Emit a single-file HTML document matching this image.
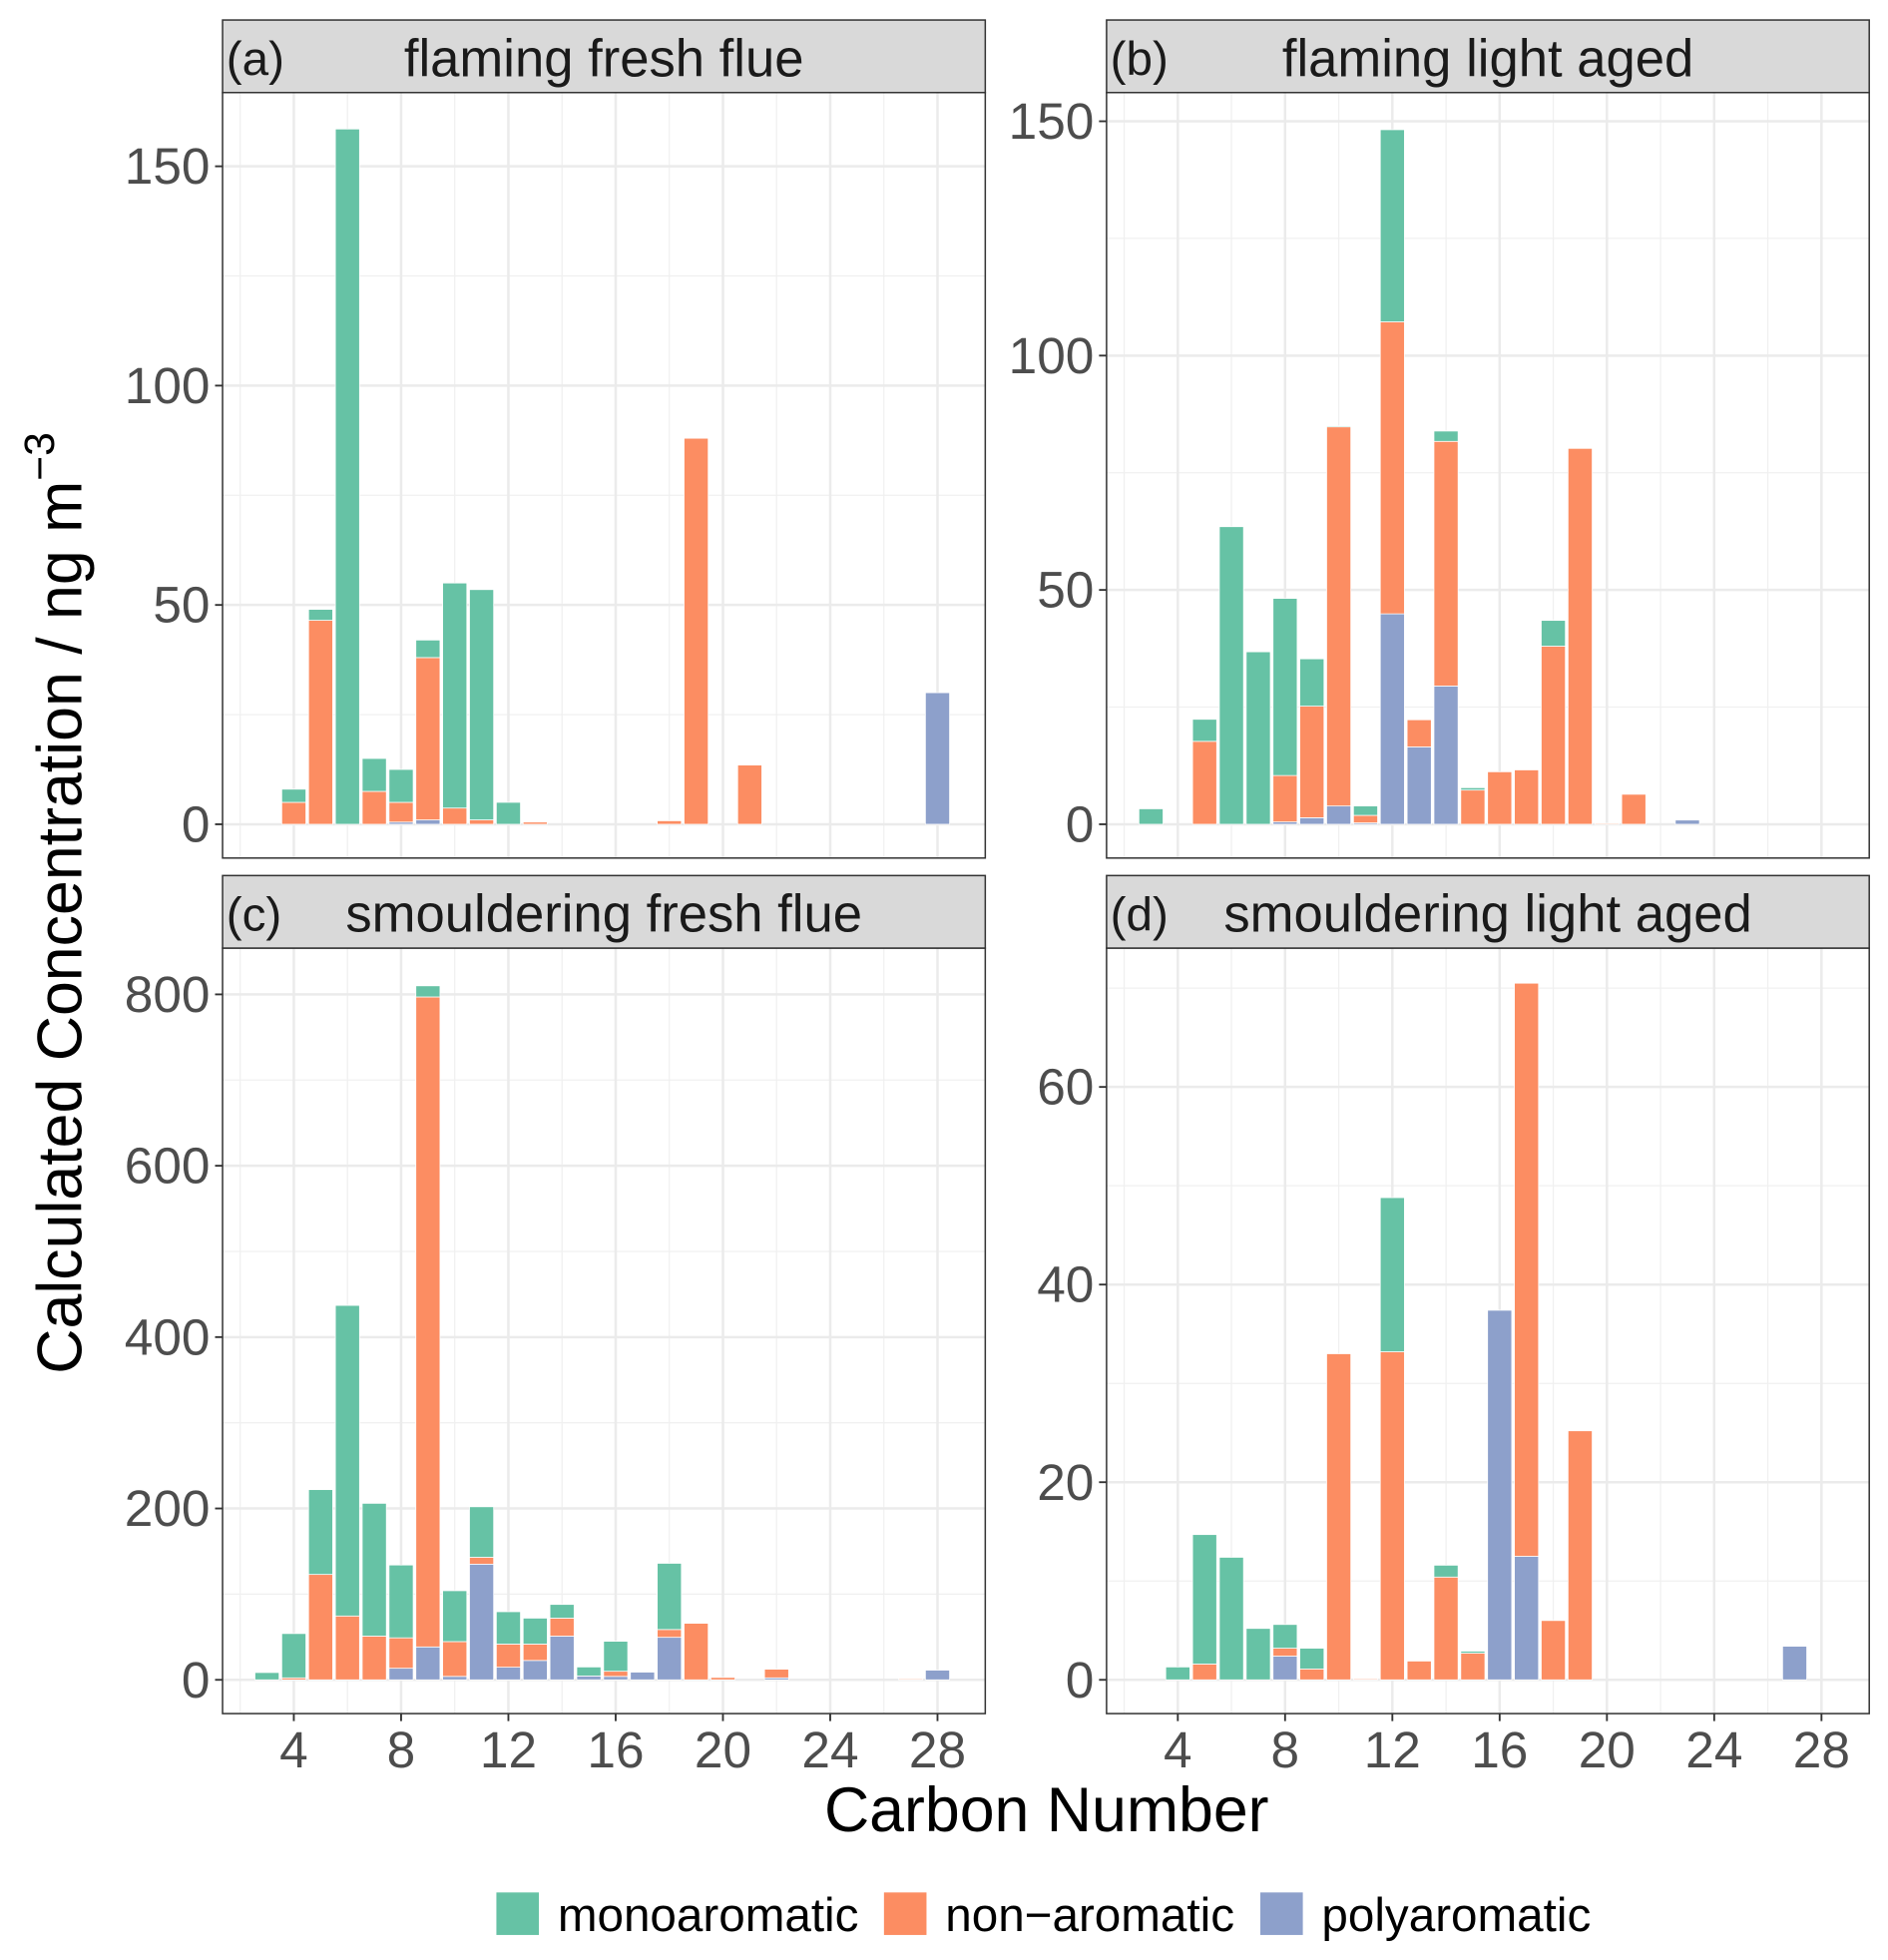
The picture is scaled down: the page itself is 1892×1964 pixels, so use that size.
<!DOCTYPE html>
<html><head><meta charset="utf-8">
<style>
html,body{margin:0;padding:0;background:#fff;}
svg{display:block;}
text{font-family:"Liberation Sans",sans-serif;}
</style></head>
<body>
<svg id="chart" width="1892" height="1964" viewBox="0 0 1510 1567" preserveAspectRatio="none" xmlns="http://www.w3.org/2000/svg">
<g id="root"></g>
</svg>
<script>
// Carbon numbers and series values per panel (poly, non, mono stacked bottom→top)
const carbonA = [4,5,6,7,8,9,10,11,12,13,18,19,21,28];
const polyA   = [0,0,0,0,0.5,1,0,0,0,0,0,0,0,30];
const nonA    = [5,46.5,0,7.5,4.5,37,3.7,1,0,0.5,0.8,88,13.5,0];
const monoA   = [3,2.5,158.5,7.5,7.5,4,51.3,52.5,5,0,0,0,0,0];

const carbonB = [3,5,6,7,8,9,10,11,12,13,14,15,16,17,18,19,20,21,23];
const polyB   = [0,0,0,0,0.5,1.4,3.9,0.3,44.9,16.5,29.5,0,0,0,0,0,0,0,0.9];
const nonB    = [0,17.7,0,0,9.9,23.8,80.9,1.6,62.3,5.8,52.2,7.3,11.2,11.6,38,80.2,0.2,6.4,0];
const monoB   = [3.3,4.7,63.5,36.8,37.8,10.1,0.2,2,41,0,2.2,0.5,0,0,5.5,0,0,0,0];

const carbonC = [3,4,5,6,7,8,9,10,11,12,13,14,15,16,17,18,19,20,22,27,28];
const polyC   = [0,0,0,0,0,13.5,38.4,4,135,14.7,22.6,51,4.5,4,9,49.6,0,0,2.3,0,11.3];
const nonC    = [0,2.3,123,74.5,51,35.5,758.6,40.6,8,27,19.1,21,0,6,0,9.1,66,2.8,10.1,1.1,0];
const monoC   = [8.5,51.7,99,362.5,155,85,13,59.4,59,37.8,30.3,16,10.5,35,0,77.3,0,0,0,0,0];

const carbonD = [4,5,6,7,8,9,10,11,12,13,14,15,16,17,18,19,27];
const polyD   = [0,0,0,0,2.4,0,0,0,0,0,0,0,37.4,12.5,0,0,3.4];
const nonD    = [0,1.6,0,0,0.8,1.1,33,0.1,33.2,1.9,10.4,2.7,0,58,6,25.2,0];
const monoD   = [1.3,13.1,12.4,5.2,2.4,2.1,0,0,15.6,0,1.2,0.2,0,0,0,0,0];

const ticksA = [0,50,100,150], minorA=[25,75,125];
const ticksB = [0,50,100,150], minorB=[25,75,125];
const ticksC = [0,200,400,600,800], minorC=[100,300,500,700];
const ticksD = [0,20,40,60], minorD=[10,30,50,70];
const xTicks = [4,8,12,16,20,24,28];
const xMinor = [2,6,10,14,18,22,26];

const COL = {mono:'#66c2a5', non:'#fc8d62', poly:'#8da0cb'};
const NS='http://www.w3.org/2000/svg';
const root=document.getElementById('root');
function mk(tag,attrs,parent){const e=document.createElementNS(NS,tag);for(const k in attrs)e.setAttribute(k,attrs[k]);(parent||root).appendChild(e);return e;}

const panels=[
 {id:'a',title:'flaming fresh flue',label:'(a)',L:178,R:788,T:16,S:74,B:686,y0:659,ppu:3.507,c:carbonA,p:polyA,n:nonA,m:monoA,t:ticksA,mi:minorA,xl:false},
 {id:'b',title:'flaming light aged',label:'(b)',L:885,R:1495,T:16,S:74,B:686,y0:659,ppu:3.747,c:carbonB,p:polyB,n:nonB,m:monoB,t:ticksB,mi:minorB,xl:false},
 {id:'c',title:'smouldering fresh flue',label:'(c)',L:178,R:788,T:700,S:758,B:1370,y0:1343,ppu:0.685,c:carbonC,p:polyC,n:nonC,m:monoC,t:ticksC,mi:minorC,xl:true},
 {id:'d',title:'smouldering light aged',label:'(d)',L:885,R:1495,T:700,S:758,B:1370,y0:1343,ppu:7.9,c:carbonD,p:polyD,n:nonD,m:monoD,t:ticksD,mi:minorD,xl:true}
];

panels.forEach(P=>{
  const g=mk('g',{});
  
  
  const xs=c=>P.L+57+(c-4)*21.45;
  const ys=v=>P.y0-v*P.ppu;
  mk('rect',{x:P.L,y:P.S,width:P.R-P.L,height:P.B-P.S,fill:'#fff'},g);
  xMinor.forEach(c=>{const l=mk('line',{x1:xs(c),x2:xs(c),y1:P.S,y2:P.B,stroke:'#f0f0f0','stroke-width':1},g);});
  P.mi.forEach(v=>{const l=mk('line',{x1:P.L,x2:P.R,y1:ys(v),y2:ys(v),stroke:'#f0f0f0','stroke-width':1},g);});
  xTicks.forEach(c=>{const l=mk('line',{x1:xs(c),x2:xs(c),y1:P.S,y2:P.B,stroke:'#ebebeb','stroke-width':2},g);});
  P.t.forEach(v=>{const l=mk('line',{x1:P.L,x2:P.R,y1:ys(v),y2:ys(v),stroke:'#ebebeb','stroke-width':2},g);});
  const bw=19.3;
  P.c.forEach((c,i)=>{
    let base=0;
    [['poly',P.p[i]],['non',P.n[i]],['mono',P.m[i]]].forEach(([k,v])=>{
      if(v>0){
        const r=mk('rect',{x:xs(c)-bw/2,y:ys(base+v),width:bw,height:v*P.ppu,fill:COL[k],stroke:'#fff','stroke-width':0.6},g);
        
        
      }
      base+=v;
    });
  });
  const br=mk('rect',{x:P.L,y:P.S,width:P.R-P.L,height:P.B-P.S,fill:'none',stroke:'#333','stroke-width':1.2},g);
  
  
  const st=mk('rect',{x:P.L,y:P.T,width:P.R-P.L,height:P.S-P.T,fill:'#d9d9d9',stroke:'#333','stroke-width':1.2},g);
  
  
  const lb=mk('text',{x:P.L+3,y:P.T+44,'font-size':38,fill:'#1a1a1a'},g);lb.textContent=P.label;
  
  
  const tt=mk('text',{x:(P.L+P.R)/2,y:P.T+45,'font-size':42,fill:'#1a1a1a','text-anchor':'middle'},g);tt.textContent=P.title;
  
  
  P.t.forEach(v=>{
    mk('line',{x1:P.L-6,x2:P.L,y1:ys(v),y2:ys(v),stroke:'#333','stroke-width':1.5},g);
    const t=mk('text',{x:P.L-10,y:ys(v)+14,'font-size':41,fill:'#4d4d4d','text-anchor':'end'},g);t.textContent=v;
    
    
  });
  if(P.xl){
    xTicks.forEach(c=>{
      mk('line',{x1:xs(c),x2:xs(c),y1:P.B,y2:P.B+6,stroke:'#333','stroke-width':1.5},g);
      const t=mk('text',{x:xs(c),y:P.B+43,'font-size':41,fill:'#4d4d4d','text-anchor':'middle'},g);t.textContent=c;
      
      
    });
  }
});

const xt=mk('text',{x:837,y:1464,'font-size':50,fill:'#000','text-anchor':'middle'});xt.textContent='Carbon Number';


const yt=mk('text',{x:0,y:0,'font-size':50,fill:'#000','text-anchor':'middle',transform:'translate(65,722) rotate(-90)'});
yt.textContent='Calculated Concentration / ng m';
const sup=mk('tspan',{dy:-22,'font-size':34},yt);sup.textContent='\u22123';



const legNames=['monoaromatic','non\u2212aromatic','polyaromatic'];
const legCols=[COL.mono,COL.non,COL.poly];
const legX=[397,707,1008];
legNames.forEach((nm,i)=>{
  const g=mk('g',{});
  
  
  mk('rect',{x:legX[i],y:1513,width:34,height:34,fill:legCols[i]},g);
  const t=mk('text',{x:legX[i]+49,y:1544,'font-size':38,fill:'#000'},g);t.textContent=nm;
});
</script>
</body></html>
